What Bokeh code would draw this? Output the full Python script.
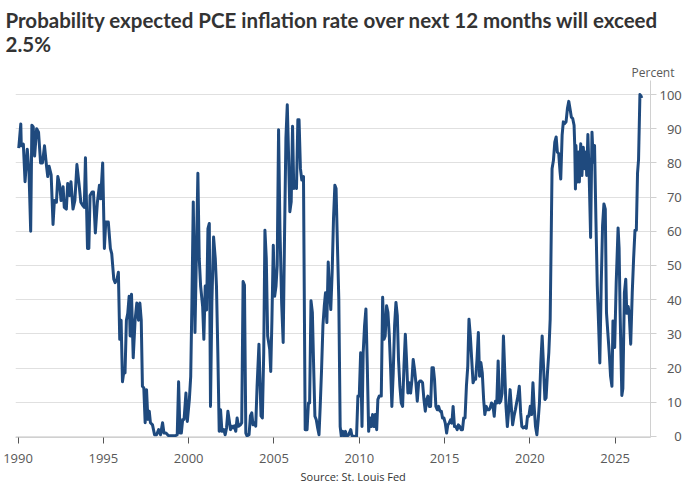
from bokeh.plotting import figure
from bokeh.models import Range1d, FixedTicker, Title
from bokeh.embed import file_html
from bokeh.resources import INLINE

years = [
    1990.04, 1990.16, 1990.19, 1990.31, 1990.41, 1990.54, 1990.64, 1990.74, 1990.81, 1990.89,
    1990.97, 1991.09, 1991.20, 1991.32, 1991.43, 1991.55, 1991.67, 1991.74, 1991.82, 1991.94,
    1992.05, 1992.13, 1992.25, 1992.33, 1992.44, 1992.52, 1992.64, 1992.71, 1992.83, 1992.91,
    1993.02, 1993.10, 1993.22, 1993.33, 1993.45, 1993.57, 1993.68, 1993.80, 1993.88, 1993.95,
    1994.07, 1994.15, 1994.22, 1994.34, 1994.42, 1994.53, 1994.65, 1994.77, 1994.84, 1994.96,
    1995.06, 1995.14, 1995.29, 1995.41, 1995.49, 1995.61, 1995.69, 1995.80, 1995.88, 1995.96,
    1996.04, 1996.12, 1996.20, 1996.27, 1996.35, 1996.43, 1996.51, 1996.57, 1996.65, 1996.75,
    1996.86, 1996.96, 1997.06, 1997.14, 1997.22, 1997.29, 1997.37, 1997.45, 1997.53, 1997.61,
    1997.69, 1997.76, 1997.88, 1998.00, 1998.12, 1998.24, 1998.35, 1998.47, 1998.55, 1998.67,
    1998.82, 1999.02, 1999.22, 1999.33, 1999.41, 1999.49, 1999.57, 1999.65, 1999.73,
    1999.84, 1999.92, 2000.04, 2000.12, 2000.19, 2000.27, 2000.37, 2000.47, 2000.54, 2000.62,
    2000.70, 2000.82, 2000.89, 2000.97, 2001.05, 2001.13, 2001.21, 2001.28, 2001.36, 2001.46,
    2001.56, 2001.63, 2001.71, 2001.79, 2001.87, 2001.95, 2002.06, 2002.14, 2002.22, 2002.30,
    2002.37, 2002.45, 2002.53, 2002.61, 2002.68, 2002.76, 2002.84, 2002.92, 2003.04, 2003.11,
    2003.19, 2003.27, 2003.35, 2003.42, 2003.54, 2003.62, 2003.70, 2003.77, 2003.85, 2003.93,
    2004.01, 2004.12, 2004.24, 2004.32, 2004.40, 2004.47, 2004.55, 2004.63, 2004.75,
    2004.81, 2004.88, 2004.96, 2005.04, 2005.12, 2005.19, 2005.27, 2005.35, 2005.45, 2005.54,
    2005.62, 2005.70, 2005.78, 2005.85, 2005.93, 2006.01, 2006.09, 2006.16, 2006.24, 2006.32,
    2006.40, 2006.47, 2006.55, 2006.63, 2006.73, 2006.83, 2006.94, 2007.02, 2007.09, 2007.17,
    2007.25, 2007.33, 2007.40, 2007.48, 2007.56, 2007.64, 2007.71, 2007.79, 2007.87, 2007.95,
    2008.02, 2008.10, 2008.18, 2008.26, 2008.33, 2008.41, 2008.49, 2008.57, 2008.64, 2008.72,
    2008.80, 2008.88, 2008.95, 2009.03, 2009.11, 2009.19, 2009.26, 2009.38, 2009.50, 2009.57,
    2009.73,
    2009.84, 2009.92, 2010.00, 2010.08, 2010.16, 2010.23, 2010.31, 2010.39, 2010.47, 2010.55,
    2010.62, 2010.70, 2010.78, 2010.86, 2010.94, 2011.02, 2011.09, 2011.17, 2011.29, 2011.37,
    2011.45, 2011.52, 2011.60, 2011.68, 2011.76, 2011.84, 2011.91, 2011.99, 2012.07, 2012.15,
    2012.23, 2012.30, 2012.38, 2012.46, 2012.54, 2012.62, 2012.70, 2012.77, 2012.85, 2012.93,
    2013.01, 2013.09, 2013.16, 2013.24, 2013.32, 2013.40, 2013.48, 2013.55, 2013.63, 2013.71,
    2013.79, 2013.87, 2013.95, 2014.02, 2014.10, 2014.18, 2014.26, 2014.34, 2014.41, 2014.49,
    2014.57, 2014.65, 2014.73,
    2014.81, 2014.88, 2014.96, 2015.04, 2015.12, 2015.19, 2015.27, 2015.35, 2015.43, 2015.50,
    2015.58, 2015.66, 2015.74, 2015.81, 2015.89, 2015.97, 2016.05, 2016.12, 2016.20, 2016.28,
    2016.36, 2016.43, 2016.51, 2016.59, 2016.67, 2016.74, 2016.82, 2016.90, 2016.98, 2017.05,
    2017.13, 2017.21, 2017.29, 2017.36, 2017.44, 2017.52, 2017.60, 2017.67, 2017.75, 2017.83,
    2017.91, 2017.98, 2018.06, 2018.14, 2018.22, 2018.29, 2018.37, 2018.45, 2018.53, 2018.60,
    2018.68, 2018.76, 2018.84, 2018.91, 2018.99, 2019.07, 2019.15, 2019.22, 2019.30, 2019.38,
    2019.46, 2019.53, 2019.61,
    2019.71, 2019.79, 2019.86, 2019.94, 2020.02, 2020.10, 2020.18, 2020.25, 2020.33, 2020.41,
    2020.49, 2020.56, 2020.64, 2020.72, 2020.80, 2020.88, 2020.95, 2021.03, 2021.11, 2021.19,
    2021.30, 2021.38, 2021.46, 2021.54, 2021.61, 2021.69, 2021.77, 2021.81, 2021.89, 2021.96,
    2022.04, 2022.12, 2022.20, 2022.28, 2022.35, 2022.43, 2022.51, 2022.59, 2022.63, 2022.67,
    2022.70, 2022.78, 2022.86, 2022.90, 2022.98, 2023.05, 2023.13, 2023.21, 2023.29, 2023.33,
    2023.40, 2023.48, 2023.56, 2023.64, 2023.72, 2023.79, 2023.87, 2023.95, 2024.03, 2024.10,
    2024.18, 2024.26, 2024.34, 2024.42, 2024.49, 2024.57, 2024.65, 2024.73,
    2024.81, 2024.87, 2024.97, 2025.06, 2025.17, 2025.23, 2025.29, 2025.39, 2025.45, 2025.54,
    2025.62, 2025.68, 2025.76, 2025.82, 2025.91, 2026.00, 2026.08, 2026.16, 2026.24, 2026.31,
    2026.37, 2026.45, 2026.52, 2026.56,
]

probability = [
    84.3, 91.4, 85, 85.5, 74.5, 84, 77.5, 60, 91, 90.5,
    82, 90, 89, 80, 80, 85, 79, 76, 79, 76.5,
    62, 69, 68.5, 76, 73.5, 69, 73, 67, 66.5, 74,
    70.5, 74.5, 66.5, 69, 79.5, 74, 68.5, 67.5, 67, 81.5,
    55, 55, 70.5, 71.5, 71.5, 59.5, 68.5, 73.5, 69.5, 80,
    55, 62.7, 62.7, 55, 53.5, 46, 45, 46, 48, 28.4,
    34, 16, 19, 18.6, 34, 36, 41, 29.4, 41.6, 23,
    34, 39, 34, 39, 34, 14.7, 14.2, 4, 13.7, 5,
    7.4, 4, 3.4, 0.5, 0.5, 2, 0.5, 4, 1, 1,
    0.2, 0.2, 0.2, 0.5, 16, 1, 1, 5, 5,
    12.7, 4.4, 10.8, 17.6, 39, 68.6, 30.4, 57.8, 77, 52,
    44, 38, 28.4, 44, 37, 60.8, 62.3, 8.8, 39, 58.3,
    52, 44, 24.5, 1.5, 7.8, 1.5, 2, 0.5, 2.5, 7.4,
    5, 2, 3, 2.5, 3.1, 1.5, 5.4, 3, 3.4, 4,
    45.3, 44.3, 1, 0.2, 0.5, 6, 6.9, 3.4, 3.9, 3,
    14.7, 27, 6, 5.4, 24.5, 60.3, 52, 29.4, 25.5,
    19, 34, 55.9, 41, 44, 50, 89.7, 60.8, 39, 27.5,
    58.8, 87.2, 97, 83.3, 65.7, 68.6, 90.7, 72.5, 74.5, 72.5,
    92.6, 92.6, 78.4, 75, 76, 2, 2, 9.8, 9.8, 39.7,
    36.3, 19.6, 5.9, 4.9, 2.5, 0.5, 8.8, 19.6, 32.4, 38.2,
    42, 33.3, 51, 42, 37.1, 48, 63.7, 73.5, 72.5, 55.9,
    40.2, 2.9, 0, 1.5, 0.2, 1.5, 0, 0.5, 2, 0.2,
    0,
    0, 11.8, 11.8, 24.5, 2.9, 24.5, 32.4, 37.3, 20.6, 1.5,
    5.4, 2.9, 6.4, 2.9, 6.4, 2, 10.8, 11.8, 11.8, 40.7,
    28.4, 29.4, 38.2, 36.3, 29.4, 19.6, 8.8, 18.6, 32.4, 39.2,
    35.3, 22.5, 14.7, 9.8, 8.8, 20.6, 29.9, 22.5, 12.7, 15.7,
    12.7, 16.7, 22.5, 19.6, 15.7, 10.3, 15.7, 16.2, 16.2, 15.7,
    10.8, 7.4, 10.8, 11.8, 8.8, 8.8, 20.1, 20.1, 16.7, 8.8,
    7.8, 8.8, 7.4,
    7.4, 5.4, 5.4, 3.9, 1, 3.4, 3.9, 4.9, 3.9, 8.8,
    2.9, 2.9, 2, 3.4, 2.9, 2, 2, 5.4, 5.4, 14.7,
    20.6, 34.3, 29.4, 22.5, 15.7, 16.7, 16.7, 22.5, 30.4, 17.6,
    21.6, 18.6, 10.8, 6.4, 8.8, 7.8, 7.8, 8.3, 9.8, 9.3,
    5.9, 10.3, 9.8, 22.1, 9.8, 10.3, 12.7, 29.4, 18.6, 8.8,
    2.9, 7.8, 13.7, 8.8, 3.4, 5.9, 7.8, 9.8, 11.8, 14.7,
    6.9, 2.9, 2.5,
    2.9, 2.4, 5.9, 5.9, 8.8, 6.4, 15.7, 8.8, 2.9, 0.5,
    4.9, 9.8, 21.5, 29.4, 20.5, 10.8, 11.3, 18.6, 24.5, 34.3,
    78.3, 80.7, 86.1, 87.6, 83.2, 82.7, 77.3, 75.3, 88.1, 92,
    91.5, 92, 95.9, 98, 95.9, 93.4, 93, 91, 85.1, 72.4,
    85.1, 74.4, 83.2, 74.4, 85.6, 76.3, 84.6, 78.3, 83.2, 76.3,
    88.3, 75.3, 58.2, 89, 80.2, 85.1, 63.6, 44, 32.3, 21.5,
    44, 61.6, 68, 66.5, 36.2, 30.3, 24.5, 17.6,
    14.7, 33.8, 26, 45, 61, 55, 36, 12, 14, 42,
    46, 36, 38, 36, 27, 42, 52, 60.3, 60.3, 77,
    81, 100, 99.5, 99,
]

x_ticks = [1990, 1995, 2000, 2005, 2010, 2015, 2020, 2025]
y_ticks = [0, 10, 20, 30, 40, 50, 60, 70, 80, 90, 100]

title_text = "Probability expected PCE inflation rate over next 12 months will exceed\n2.5%"
unit_text = "Percent"
source_text = "Source: St. Louis Fed"

LINE = "#1f4a7e"
TXT = "#595959"

p = figure(width=684, height=484, output_backend="svg", toolbar_location=None,
           x_range=Range1d(1989.85, 2027.07), y_range=Range1d(-0.3, 104.1),
           y_axis_location="right", title=None,
           min_border_left=15, min_border_right=0, min_border_top=0, min_border_bottom=0)
p.outline_line_color = None
p.background_fill_color = "white"
p.border_fill_color = "white"

p.line(years, probability, line_color=LINE, line_width=3, line_join="round")

p.xgrid.visible = False
p.ygrid.grid_line_color = "#e0e0e0"
p.ygrid.grid_line_width = 1
p.ygrid.ticker = FixedTicker(ticks=y_ticks)

xa = p.xaxis[0]
xa.ticker = FixedTicker(ticks=x_ticks)
xa.axis_line_color = "#d0d0d0"
xa.major_tick_line_color = "#555555"
xa.major_tick_out = 6
xa.major_tick_in = 0
xa.minor_tick_line_color = None
xa.major_label_text_font = "Open Sans"
xa.major_label_text_font_size = "13px"
xa.major_label_text_color = TXT
xa.major_label_standoff = 10

ya = p.yaxis[0]
ya.ticker = FixedTicker(ticks=y_ticks)
# figure spaces keep the labels right-aligned like the reference
ya.major_label_overrides = {t: ("\u2007" * (3 - len(str(t)))) + str(t) for t in y_ticks}
ya.major_label_standoff = 3
ya.axis_line_color = "#d0d0d0"
ya.major_tick_line_color = "#d0d0d0"
ya.major_tick_out = 6
ya.major_tick_in = 0
ya.minor_tick_line_color = None
ya.major_label_text_font = "Noto Sans"
ya.major_label_text_font_size = "13px"
ya.major_label_text_color = TXT

p.add_layout(Title(text=unit_text, align="right", offset=-24, text_font="Open Sans",
                   text_font_size="12px", text_font_style="normal", text_color=TXT,
                   standoff=0), "above")
p.add_layout(Title(text=title_text, align="left", offset=-10,
                   text_font="Lato",
                   text_font_size="20.5px", text_font_style="bold", text_color="#333333",
                   standoff=11), "above")
p.add_layout(Title(text=source_text, align="left", offset=285, text_font="Open Sans",
                   text_font_size="11px", text_font_style="normal", text_color="#333333",
                   standoff=2), "below")

open("out.html", "w").write(file_html(p, INLINE))
